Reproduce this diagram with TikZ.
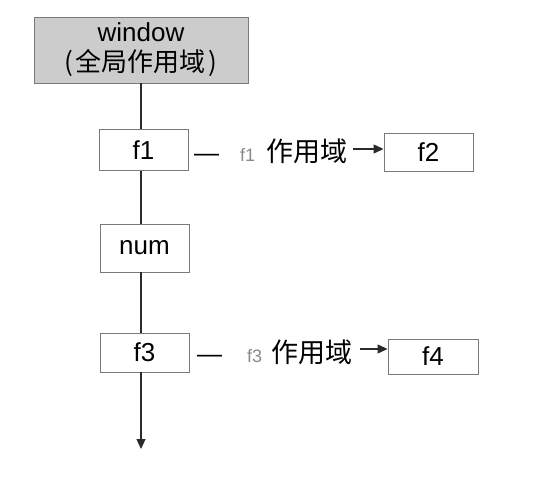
\documentclass[tikz,border=0pt]{standalone}
\usepackage{fontspec}
\setmainfont{Liberation Sans}
\newfontfamily\cjk{Noto Sans CJK SC}
\usetikzlibrary{arrows.meta}
\definecolor{boxgray}{HTML}{7A7A7A}
\definecolor{fillgray}{HTML}{CCCCCC}
\definecolor{linedark}{HTML}{2A2A2A}
\definecolor{labelgray}{HTML}{8A8A8A}
\tikzset{
  box/.style={draw=boxgray, line width=0.9pt, fill=white, inner sep=0pt,
    font=\fontsize{26}{30}\selectfont, text=black},
  conn/.style={draw=linedark, line width=1.1pt},
  arr/.style={conn, -{Triangle[length=10pt,width=9pt]}},
  lbl/.style={inner sep=0pt, anchor=west, font=\fontsize{25}{30}\selectfont}
}
\newcommand{\glab}[1]{{\color{labelgray}\fontsize{18}{20}\selectfont #1}}
\newcommand{\bigcjk}[1]{{\cjk\fontsize{27}{30}\selectfont #1}}
\begin{document}
\begin{tikzpicture}[x=1pt,y=-1pt]
\useasboundingbox (0,0) rectangle (555,500);
\node[box, fill=fillgray, minimum width=214pt, minimum height=66pt, align=center,
  font=\fontsize{26}{31}\selectfont] (window) at (141,50)
  {window\\[-1pt]{\cjk (\hspace{3pt}全局作用域\hspace{3pt})}};
\node[box, minimum width=89pt, minimum height=41pt] (f1) at (143.5,150) {f1};
\node[box, minimum width=89pt, minimum height=48pt] (num) at (144.5,248) {num};
\node[box, minimum width=89pt, minimum height=39pt] (f3) at (144.5,352.5) {f3};
\node[box, minimum width=89pt, minimum height=38pt] (f2) at (428.5,152) {f2};
\node[box, minimum width=90pt, minimum height=35pt] (f4) at (433,356.5) {f4};
\coordinate (end) at (141,449);
% vertical chain
\draw[conn] (window.south) -- (window.south |- f1.north);
\draw[conn] (window.south |- f1.south) -- (window.south |- num.north);
\draw[conn] (window.south |- num.south) -- (window.south |- f3.north);
\draw[arr] (window.south |- f3.south) -- (end);
% labels
\node[lbl] (l1) at (194,151) {—\hspace{21pt}\glab{f1}\hspace{11pt}\bigcjk{作用域}};
\node[lbl] (l3) at (197,352) {—\hspace{25pt}\glab{f3}\hspace{9pt}\bigcjk{作用域}};
\coordinate (a1) at ([xshift=6pt,yshift=2pt]l1.east);
\coordinate (a3) at ([xshift=8pt,yshift=3pt]l3.east);
\draw[arr] (a1) -- (a1 -| f2.west);
\draw[arr] (a3) -- (a3 -| f4.west);
\end{tikzpicture}
\end{document}
